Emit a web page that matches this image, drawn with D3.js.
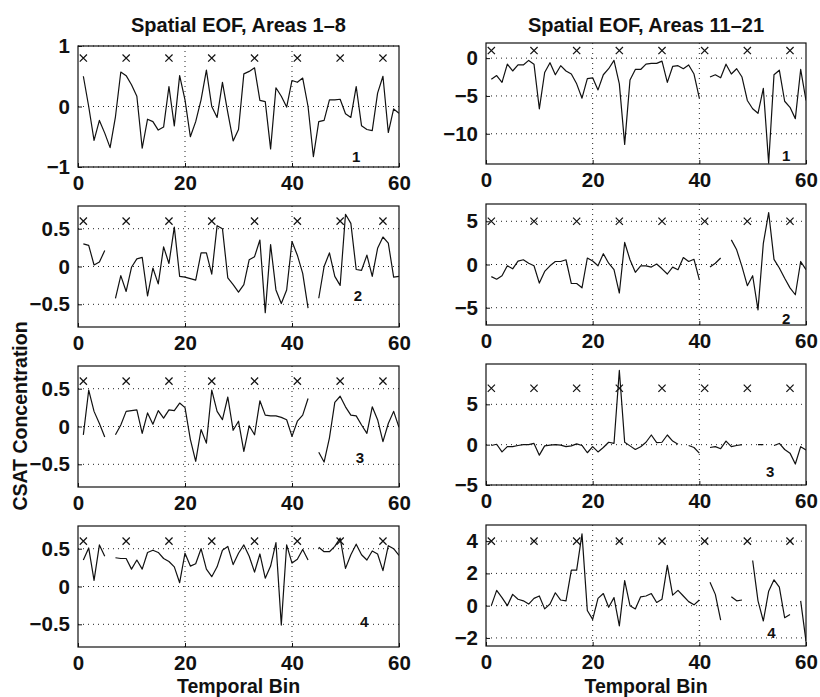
<!DOCTYPE html>
<html>
<head>
<meta charset="utf-8">
<script src="https://cdn.jsdelivr.net/npm/d3@7"></script>
<style>
  body { margin: 0; background: #fff; }
  text { font-family: "Liberation Sans", Arial, Helvetica, sans-serif; font-weight: bold; fill: #111; }
</style>
</head>
<body>
<script>
// temporal EOF amplitudes, bins 1..60 (null = missing bin)
let eof1L = [0.5, 0.0, -0.56, -0.23, -0.44, -0.68, -0.17, 0.57, 0.51, 0.36, 0.17, -0.69, -0.21, -0.25, -0.39, -0.34, 0.33, -0.32, 0.51, 0.11, -0.5, -0.25, 0.11, 0.6, 0.0, -0.18, 0.4, -0.1, -0.57, -0.38, 0.54, 0.58, 0.64, 0.1, 0.08, -0.7, 0.31, 0.17, -0.01, 0.43, 0.4, 0.47, 0.0, -0.83, -0.25, -0.23, 0.11, 0.11, 0.12, -0.12, -0.18, 0.33, -0.32, -0.38, -0.4, 0.22, 0.5, -0.43, -0.04, -0.11]
let eof2L = [0.3, 0.28, 0.02, 0.06, 0.21, null, -0.42, -0.12, -0.33, -0.01, 0.1, 0.12, -0.39, -0.02, -0.23, 0.26, 0.04, 0.52, -0.13, -0.14, -0.16, -0.18, 0.18, 0.18, -0.1, 0.54, 0.5, -0.15, -0.24, -0.34, -0.24, 0.09, 0.13, 0.35, -0.61, 0.29, -0.31, -0.49, -0.31, 0.33, 0.15, -0.09, -0.55, null, -0.42, 0.0, 0.18, -0.13, -0.25, 0.69, 0.57, -0.04, -0.05, 0.15, -0.13, 0.24, 0.39, 0.31, -0.14, -0.13]
let eof3L = [-0.11, 0.48, 0.2, 0.04, -0.14, null, -0.11, 0.02, 0.2, 0.21, 0.22, -0.09, 0.18, 0.03, 0.21, 0.11, 0.22, 0.21, 0.31, 0.25, -0.17, -0.46, -0.04, -0.22, 0.48, 0.2, 0.09, 0.39, -0.05, 0.07, -0.33, 0.01, -0.11, 0.34, 0.15, 0.14, 0.14, 0.12, 0.09, -0.13, 0.07, 0.15, 0.37, null, -0.34, -0.47, -0.15, 0.32, 0.4, 0.26, 0.15, 0.14, 0.02, -0.09, 0.26, 0.09, -0.2, 0.04, 0.2, -0.01]
let eof4L = [0.35, 0.51, 0.08, 0.55, 0.4, null, 0.38, 0.37, 0.37, 0.23, 0.35, 0.23, 0.45, 0.48, 0.45, 0.37, 0.33, 0.26, 0.05, 0.44, 0.27, 0.3, 0.5, 0.23, 0.13, 0.26, 0.48, 0.53, 0.29, 0.44, 0.55, 0.4, 0.19, 0.43, 0.11, 0.27, 0.58, -0.51, 0.55, 0.31, 0.36, 0.49, 0.35, null, 0.52, 0.46, 0.46, 0.53, 0.64, 0.24, 0.42, 0.56, 0.42, 0.35, 0.47, 0.43, 0.21, 0.54, 0.5, 0.41]

let eof1R = [-2.8, -2.3, -3.2, -0.8, -1.7, -0.9, -0.9, -0.3, -0.8, -6.7, -1.9, -0.6, -2.2, -1.0, -1.7, -2.1, -3.4, -5.3, -2.7, -2.6, -4.2, -2.2, -1.4, -0.3, -3.4, -11.4, -2.9, -1.5, -1.5, -0.8, -0.7, -0.7, -0.4, -3.2, -1.1, -1.0, -1.4, -0.9, -2.1, -5.3, null, -2.5, -2.2, -2.6, -0.8, -2.1, -1.4, -2.5, -5.6, -6.7, -7.3, -4.0, -13.9, -2.2, -1.6, -5.7, -6.5, -8.0, -1.5, -5.6]
let eof2R = [-1.4, -1.7, -1.3, -0.15, -0.5, 0.4, 0.55, 0.15, -0.15, -2.15, -0.8, -0.15, 0.35, 0.35, 0.55, -2.2, -2.2, -2.7, 0.75, 0.4, -0.15, 1.25, 0.15, -0.6, -3.3, 2.55, 0.55, -0.9, -0.15, -0.15, -0.3, 0.05, -0.5, -1.1, -0.3, -0.6, 0.8, 0.35, 0.6, -1.75, null, -0.3, 0.15, 0.75, null, 2.85, 1.7, -0.25, -2.45, -1.3, -5.25, 2.45, 6.0, 0.6, -0.4, -1.6, -2.7, -3.5, 0.35, -0.6]
let eof3R = [-0.1, 0.05, -0.9, -0.25, -0.25, -0.1, 0.0, 0.0, 0.15, -1.3, -0.15, -0.05, 0.0, -0.05, -0.25, -0.15, 0.1, -0.1, -1.0, -0.25, -0.9, -0.35, 0.3, 0.15, 9.2, 0.3, -0.15, -0.6, -0.25, 0.3, 1.2, 0.25, 0.3, 1.2, 0.45, 0.05, null, -0.1, -0.35, -1.05, null, -0.35, -0.25, -0.5, 0.45, -0.25, -0.1, 0.0, null, null, 0.0, 0.0, null, -0.1, 0.15, -0.6, -1.05, -2.4, -0.25, -0.65]
let eof4R = [0.0, 0.95, 0.5, 0.0, 0.7, 0.4, 0.3, 0.1, 0.45, 0.6, -0.2, 0.1, 0.8, 0.35, 0.3, 2.2, 2.2, 4.45, -0.3, -0.85, 0.45, 0.75, -0.1, 0.5, -1.25, 1.55, 0.0, -0.2, 0.55, 0.6, 0.75, 0.2, 0.4, 2.5, 0.65, 0.95, 0.6, 0.25, 0.05, 0.35, null, 1.45, 0.7, -0.9, null, 0.55, 0.3, 0.35, null, 2.8, 0.3, -0.95, 0.9, 1.6, 1.15, -0.75, -0.55, null, 0.3, -2.2]

let markerBins = [1, 9, 17, 25, 33, 41, 49, 57]
let markerLevelL = [0.8, 0.6, 0.6, 0.6]
let markerLevelR = [1, 5, 7, 4]

let domainL = [[-1, 1], [-0.8, 0.8], [-0.8, 0.8], [-0.8, 0.8]]
let domainR = [[-14, 2], [-7, 7], [-5, 10], [-2.5, 5]]
let yTicksL = [[-1, 0, 1], [-0.5, 0, 0.5], [-0.5, 0, 0.5], [-0.5, 0, 0.5]]
let yTicksR = [[-10, -5, 0], [-5, 0, 5], [-5, 0, 5], [-2, 0, 2, 4]]
let xTicks = [0, 20, 40, 60]
let panelNums = ['1', '2', '3', '4']
let titles = ['Spatial EOF, Areas 1\u20138', 'Spatial EOF, Areas 11\u201321']

// layout
let w = 820, h = 697
let ph = 121
let cols = [
  { x0: 78, x1: 399, tops: [46, 206, 366, 526], series: [eof1L, eof2L, eof3L, eof4L], dom: domainL, ticks: yTicksL, mk: markerLevelL,
    num: [[52, -0.83], [52.3, -0.39], [52.7, -0.41], [53.5, -0.46]] },
  { x0: 486, x1: 806, tops: [43, 204, 364, 525], series: [eof1R, eof2R, eof3R, eof4R], dom: domainR, ticks: yTicksR, mk: markerLevelR,
    num: [[56.3, -12.9], [56.3, -6.3], [53.3, -3.3], [53.5, -1.7]] }
]

let fmt = v => (v < 0 ? '\u2212' : '') + Math.abs(v)

let svg = d3.select('body').append('svg').attr('width', w).attr('height', h)
svg.append('rect').attr('width', w).attr('height', h).attr('fill', '#fff')

cols.forEach((col, ci) => {
  let x = d3.scaleLinear().domain([0, 60]).range([col.x0, col.x1])

  svg.append('text').attr('x', (col.x0 + col.x1) / 2).attr('y', 32)
    .attr('text-anchor', 'middle').style('font-size', '20px').text(titles[ci])

  svg.append('text').attr('x', (col.x0 + col.x1) / 2).attr('y', 693)
    .attr('text-anchor', 'middle').style('font-size', '19.5px').text('Temporal Bin')

  col.series.forEach((vals, pi) => {
    let top = col.tops[pi], bot = top + ph
    let y = d3.scaleLinear().domain(col.dom[pi]).range([bot, top])
    let g = svg.append('g')
    let cid = 'clip' + ci + pi

    g.append('clipPath').attr('id', cid).append('rect')
      .attr('x', col.x0).attr('y', top).attr('width', col.x1 - col.x0).attr('height', ph)

    // dotted grid
    g.selectAll('line.gx').data([20, 40]).enter().append('line')
      .attr('x1', d => x(d)).attr('x2', d => x(d)).attr('y1', top).attr('y2', bot)
      .attr('stroke', '#222').attr('stroke-width', 1).attr('stroke-dasharray', '1,4')
    g.selectAll('line.gy').data(col.ticks[pi]).enter().append('line')
      .attr('x1', col.x0).attr('x2', col.x1).attr('y1', d => y(d)).attr('y2', d => y(d))
      .attr('stroke', '#222').attr('stroke-width', 1).attr('stroke-dasharray', '1,4')

    // axes (labels only, small inner ticks)
    let ax = g.append('g').attr('transform', 'translate(0,' + bot + ')')
      .call(d3.axisBottom(x).tickValues(xTicks).tickSize(-4).tickPadding(8).tickFormat(fmt))
    let ay = g.append('g').attr('transform', 'translate(' + col.x0 + ',0)')
      .call(d3.axisLeft(y).tickValues(col.ticks[pi]).tickSize(-4).tickPadding(8).tickFormat(fmt))
    ;[ax, ay].forEach(a => {
      a.select('.domain').remove()
      a.selectAll('.tick line').attr('stroke', '#111')
      a.selectAll('text').style('font-size', '20.5px').attr('fill', '#111')
    })
    ax.selectAll('text').attr('dy', '0.71em')

    // box
    g.append('rect').attr('x', col.x0).attr('y', top).attr('width', col.x1 - col.x0).attr('height', ph)
      .attr('fill', 'none').attr('stroke', '#111').attr('stroke-width', 1.2)

    // series line with gaps
    let line = d3.line().defined(d => d != null).x((d, i) => x(i + 1)).y(d => y(d))
    g.append('path').datum(vals).attr('clip-path', 'url(#' + cid + ')')
      .attr('d', line).attr('fill', 'none').attr('stroke', '#111').attr('stroke-width', 1.2)
      .attr('stroke-linejoin', 'round')

    // x markers
    let s = 3.6
    g.selectAll('path.mk').data(markerBins).enter().append('path')
      .attr('d', d => {
        let cx = x(d), cy = y(col.mk[pi])
        return 'M' + (cx - s) + ',' + (cy - s) + 'L' + (cx + s) + ',' + (cy + s) +
          'M' + (cx - s) + ',' + (cy + s) + 'L' + (cx + s) + ',' + (cy - s)
      })
      .attr('stroke', '#111').attr('stroke-width', 1.2).attr('fill', 'none')

    // panel number
    g.append('text').attr('x', x(col.num[pi][0])).attr('y', y(col.num[pi][1]))
      .attr('text-anchor', 'middle').attr('dy', '0.36em').style('font-size', '15px').text(panelNums[pi])
  })
})

svg.append('text').attr('transform', 'translate(27,416) rotate(-90)')
  .attr('text-anchor', 'middle').style('font-size', '19.5px').text('CSAT Concentration')
</script>
</body>
</html>
